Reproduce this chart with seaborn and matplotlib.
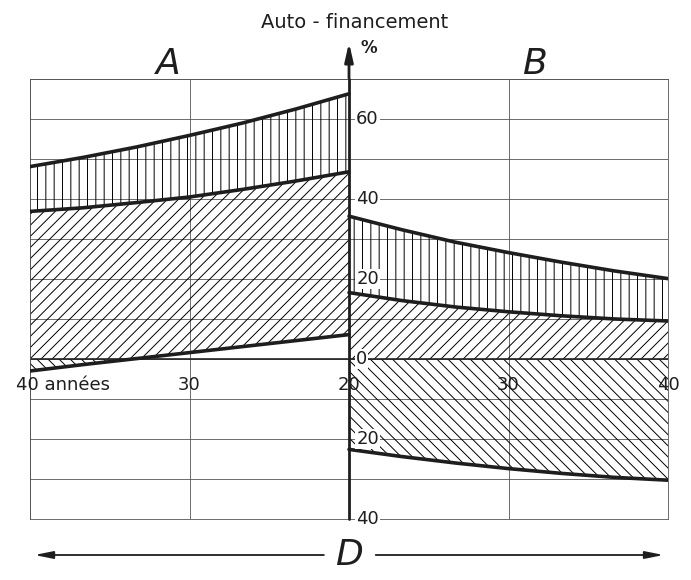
import matplotlib
matplotlib.use("Agg")
import matplotlib.pyplot as plt
import seaborn as sns
import pandas as pd
import numpy as np
from matplotlib.patches import Rectangle

# data (years, % auto-financement)
years = [40, 36.67, 33.33, 30, 26.67, 23.33, 20]
a_upper = [48.1, 50.4, 53.0, 55.9, 59.0, 62.5, 66.3]
a_middle = [36.9, 37.8, 39.1, 40.5, 42.4, 44.5, 46.8]
a_lower = [-3.0, -1.4, 0.1, 1.6, 3.1, 4.6, 6.1]

b_years = [20, 23.33, 26.67, 30, 33.33, 36.67, 40]
b_upper = [35.7, 32.3, 29.2, 26.6, 24.2, 22.0, 20.1]
b_middle = [16.6, 14.6, 13.0, 11.8, 10.8, 10.0, 9.5]
b_lower = [-22.6, -24.4, -26.0, -27.4, -28.6, -29.6, -30.3]

x_ticks = ["40 années", "30", "20", "30", "40"]
y_ticks = [60, 40, 20, 0, -20, -40]

sns.set_style("white")
plt.rcParams["font.family"] = ["DejaVu Sans"]
plt.rcParams["hatch.linewidth"] = 0.7

fig = plt.figure(figsize=(6.91, 5.80), dpi=100)
ax = fig.add_axes([30 / 691, 61 / 580, 638 / 691, 440 / 580])
ax.set_xlim(-20, 20)
ax.set_ylim(-40, 70)

# left panel A runs 40 -> 20 from left to centre, right panel B 20 -> 40
xa = 20 - np.array(years, dtype=float)
xb = np.array(b_years, dtype=float) - 20

df = pd.concat([
    pd.DataFrame({"x": xa, "y": a_upper, "c": "a_up"}),
    pd.DataFrame({"x": xa, "y": a_middle, "c": "a_mid"}),
    pd.DataFrame({"x": xa, "y": a_lower, "c": "a_low"}),
    pd.DataFrame({"x": xb, "y": b_upper, "c": "b_up"}),
    pd.DataFrame({"x": xb, "y": b_middle, "c": "b_mid"}),
    pd.DataFrame({"x": xb, "y": b_lower, "c": "b_low"}),
])

# grid
ax.set_xticks([-20, -10, 0, 10, 20])
ax.set_yticks(range(-40, 71, 10))
ax.grid(True, color="#555555", lw=0.6)
ax.tick_params(length=0, labelbottom=False, labelleft=False)
for s in ax.spines.values():
    s.set_visible(True)
    s.set_color("#555555")
    s.set_linewidth(0.6)

above = Rectangle((-20, 0), 40, 80, transform=ax.transData)
below = Rectangle((-20, -50), 40, 50, transform=ax.transData)

def hatch(x, y1, y2, pattern, clip=None):
    c = ax.fill_between(x, y1, y2, facecolor="none", edgecolor="black",
                        hatch=pattern, linewidth=0, zorder=1)
    if clip is not None:
        c.set_clip_path(clip)

hatch(xa, a_upper, a_middle, "||")
hatch(xa, a_middle, a_lower, "///", above)
hatch(xa, 0, a_lower, "\\\\\\", below)
hatch(xb, b_upper, b_middle, "||")
hatch(xb, b_middle, 0, "///")
hatch(xb, 0, b_lower, "\\\\\\")

sns.lineplot(data=df, x="x", y="y", units="c", estimator=None, color="#1e1e1e",
             lw=2.6, ax=ax, zorder=3, legend=False)
ax.set_xlabel("")
ax.set_ylabel("")

# zero line and central axis with arrow
ax.axhline(0, color="#222222", lw=1.2, zorder=2)
ax.plot([0, 0], [-40, 70], color="#1e1e1e", lw=2, zorder=4, clip_on=False)
ax.annotate("", xy=(0, 79.8), xytext=(0, 69.5), xycoords="data",
            arrowprops=dict(arrowstyle="-|>,head_length=1.1,head_width=0.25",
                            color="#1e1e1e", lw=2),
            annotation_clip=False)

fs = 13
for v in y_ticks:
    ax.text(0.45, v, str(abs(v)), ha="left", va="center", fontsize=fs,
            color="#1e1e1e", zorder=5,
            bbox=dict(facecolor="white", edgecolor="none", pad=0.5))

ax.text(-20.9, -6.4, x_ticks[0], ha="left", va="center", fontsize=fs, color="#1e1e1e")
for xp, lab in zip([-10, 0, 10, 20], x_ticks[1:]):
    ax.text(xp, -6.4, lab, ha="center", va="center", fontsize=fs, color="#1e1e1e",
            clip_on=False)

ax.text(0.35, 84.2, "Auto - financement", ha="center", va="center", fontsize=14,
        color="#1e1e1e", clip_on=False)
ax.text(0.75, 77.8, "%", ha="left", va="center", fontsize=12, weight="bold",
        color="#1e1e1e")
ax.text(-11.3, 73.8, "A", ha="center", va="center", fontsize=26, style="italic",
        color="#1e1e1e")
ax.text(11.6, 73.8, "B", ha="center", va="center", fontsize=26, style="italic",
        color="#1e1e1e")
ax.text(0, -49, "D", ha="center", va="center", fontsize=26, style="italic",
        color="#1e1e1e", clip_on=False)

arrow = dict(arrowstyle="-|>,head_length=1.1,head_width=0.22", color="#1e1e1e", lw=1.3)
ax.annotate("", xy=(-19.9, -49), xytext=(-1.4, -49), arrowprops=arrow,
            annotation_clip=False)
ax.annotate("", xy=(19.9, -49), xytext=(1.5, -49), arrowprops=arrow,
            annotation_clip=False)

fig.savefig("out.png", dpi=100)
